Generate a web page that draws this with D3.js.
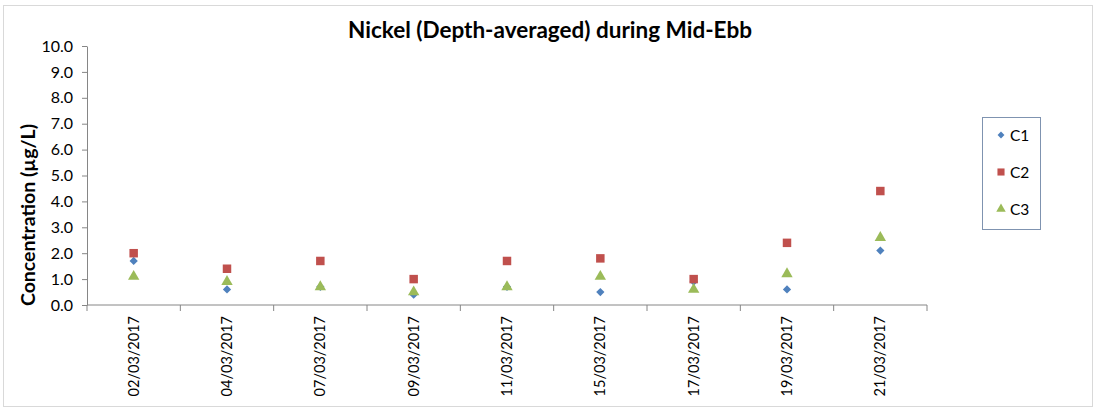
<!DOCTYPE html>
<html><head><meta charset="utf-8">
<script src="https://cdn.jsdelivr.net/npm/d3@7"></script>
<style>body{margin:0;background:#fff}svg{display:block}</style>
</head><body>
<div id="chart"></div>
<script>
const categories = ["02/03/2017","04/03/2017","07/03/2017","09/03/2017","11/03/2017","15/03/2017","17/03/2017","19/03/2017","21/03/2017"];
const c1 = [1.7,0.6,0.7,0.4,0.7,0.5,0.9,0.6,2.1];
const c2 = [2.0,1.4,1.7,1.0,1.7,1.8,1.0,2.4,4.4];
const c3 = [1.1,0.9,0.7,0.5,0.7,1.1,0.6,1.2,2.6];
const yTicks = [0,1,2,3,4,5,6,7,8,9,10];
const seriesNames = ["C1","C2","C3"];

const W=1096,H=410;
const svg=d3.select("#chart").append("svg").attr("width",W).attr("height",H);
const font="Lato, 'Open Sans', sans-serif";
svg.append("rect").attr("x",3.5).attr("y",5.5).attr("width",1089).attr("height",401).attr("fill","#fff").attr("stroke","#d9d9d9");

const x=d3.scaleBand().domain(categories).range([87,927]);
const y=d3.scaleLinear().domain([0,10]).range([305,46]);

// y axis
const ya=svg.append("g").attr("transform","translate(87,0)").call(d3.axisLeft(y).tickValues(yTicks).tickFormat(d3.format(".1f")).tickSize(5).tickSizeOuter(0));
ya.select(".domain").attr("stroke","#868686");
ya.selectAll(".tick line").attr("stroke","#868686");
ya.selectAll(".tick text").attr("font-family",font).attr("font-size",16).attr("fill","#000").attr("x",-14);

// x axis
const xa=svg.append("g").attr("transform","translate(0,305)");
xa.append("line").attr("x1",87).attr("x2",927).attr("stroke","#868686");
const bounds=categories.map(c=>x(c)).concat([x.range()[1]]);
xa.selectAll("line.t").data(bounds).join("line").attr("class","t").attr("x1",d=>d).attr("x2",d=>d).attr("y1",0).attr("y2",6).attr("stroke","#868686");
xa.selectAll("text").data(categories).join("text")
  .attr("transform",d=>`translate(${x(d)+x.bandwidth()/2+5},11) rotate(-90)`)
  .attr("text-anchor","end").attr("font-family",font).attr("font-size",14.5).attr("fill","#000").text(d=>d);

// title
svg.append("text").attr("x",550).attr("y",38).attr("text-anchor","middle").attr("font-family",font).attr("font-weight","bold").attr("font-size",22.5).text("Nickel (Depth-averaged) during Mid-Ebb");
svg.append("text").attr("transform","translate(35,215) rotate(-90)").attr("text-anchor","middle").attr("font-family",font).attr("font-weight","bold").attr("font-size",19.5).text("Concentration (µg/L)");

const colors=["#4F81BD","#C0504D","#9BBB59"];
const shapes=[d3.symbolSquare,d3.symbolSquare,d3.symbolTriangle];
const sizes=[34,72,56];
const rots=[45,0,0];
const data=[c1,c2,c3];
const cx=d=>x(d)+x.bandwidth()/2;
data.forEach((arr,i)=>{
  svg.append("g").selectAll("path").data(arr).join("path")
   .attr("transform",(v,j)=>`translate(${cx(categories[j])},${y(v)}) rotate(${rots[i]})`)
   .attr("d",d3.symbol().type(shapes[i]).size(sizes[i])).attr("fill",colors[i]);
});

// legend
const lg=svg.append("g");
lg.append("rect").attr("x",982.5).attr("y",117.5).attr("width",58).attr("height",112).attr("fill","#fff").attr("stroke","#7f93b0");
seriesNames.forEach((n,i)=>{
  const yy=135+i*37;
  lg.append("path").attr("transform",`translate(1001,${yy}) rotate(${rots[i]})`).attr("d",d3.symbol().type(shapes[i]).size(sizes[i]*0.7)).attr("fill",colors[i]);
  lg.append("text").attr("x",1010).attr("y",yy+5.5).attr("font-family",font).attr("font-size",15.5).text(n);
});
</script>
</body></html>
